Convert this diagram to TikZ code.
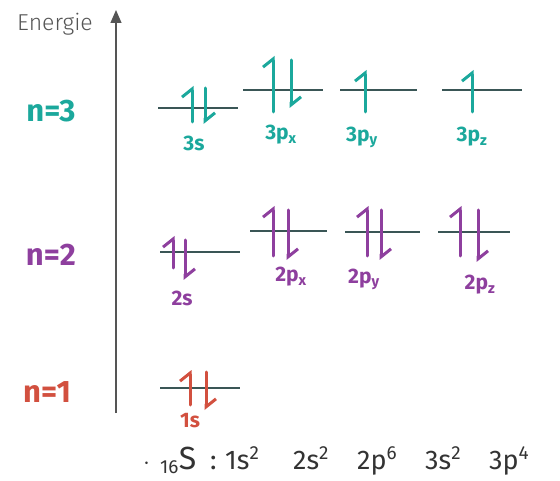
\documentclass[tikz,border=0pt]{standalone}
\usepackage{fontspec}
\setmainfont{Fira Sans}
\newfontfamily\energiefont{Fira Sans Light}
\usetikzlibrary{arrows.meta}
\definecolor{tealc}{HTML}{1BA89C}
\definecolor{purpc}{HTML}{8E3F9E}
\definecolor{redc}{HTML}{D2503F}
\definecolor{lvlc}{HTML}{3A5656}
\definecolor{axc}{HTML}{555555}
\begin{document}
\begin{tikzpicture}[x=1pt,y=-1pt,
  levelline/.style={line width=1.6pt, draw=lvlc},
  spin/.style={line width=3pt, line cap=round, -{Straight Barb[left,length=8pt,width=20pt,line width=3pt]}},
  lab/.style={font=\fontsize{21}{21}\selectfont\bfseries, inner sep=0pt},
  nlab/.style={font=\fontsize{31}{31}\selectfont\bfseries, inner sep=0pt}]
\useasboundingbox (0,0) rectangle (560,481);
\fill[white] (0,0) rectangle (560,481);
% axis
\coordinate (axb) at (116,413);
\coordinate (axt) at (116,10);
\draw[axc, line width=1.2pt, -{Triangle[length=13pt,width=11pt]}] (axb) -- (axt);
\node[text=axc, font=\fontsize{23}{23}\selectfont\energiefont, inner sep=0pt] (energie) at (55,24) {Energie};
% n labels
\node[nlab, text=tealc] (n3) at (51,111) {n=3};
\node[nlab, text=purpc] (n2) at (51,255) {n=2};
\node[nlab, text=redc] (n1) at (47,392) {n=1};
% n=3 levels
\draw[levelline] (158,108) coordinate (s3a) -- (238,108) coordinate (s3b);
\draw[spin, tealc] (192,122) -- (192,86);
\draw[spin, tealc] (205,88) -- (205,124);
\node[lab, text=tealc] (l3s) at (194,143) {3s};
\draw[levelline] (243,90) coordinate (px3a) -- (323,90) coordinate (px3b);
\draw[spin, tealc] (273,112) -- (273,56);
\draw[spin, tealc] (291,60) -- (291,108);
\node[lab, text=tealc] (l3px) at (281,135) {3p\textsubscript{x}};
\draw[levelline] (340,90) coordinate (py3a) -- (417,90) coordinate (py3b);
\draw[spin, tealc] (365,112) -- (365,70);
\node[lab, text=tealc] (l3py) at (362,137) {3p\textsubscript{y}};
\draw[levelline] (442,90) coordinate (pz3a) -- (522,90) coordinate (pz3b);
\draw[spin, tealc] (472,112) -- (472,70);
\node[lab, text=tealc] (l3pz) at (472,137) {3p\textsubscript{z}};
% n=2 levels
\draw[levelline] (160,252) coordinate (s2a) -- (240,252) coordinate (s2b);
\draw[spin, purpc] (173,268) -- (173,236);
\draw[spin, purpc] (185,240) -- (185,280);
\node[lab, text=purpc] (l2s) at (182,298) {2s};
\draw[levelline] (250,231) coordinate (px2a) -- (327,231) coordinate (px2b);
\draw[spin, purpc] (273,256) -- (273,206);
\draw[spin, purpc] (288,210) -- (288,260);
\node[lab, text=purpc] (l2px) at (291,277) {2p\textsubscript{x}};
\draw[levelline] (345,232) coordinate (py2a) -- (420,232) coordinate (py2b);
\draw[spin, purpc] (367,256) -- (367,206);
\draw[spin, purpc] (381,210) -- (381,260);
\node[lab, text=purpc] (l2py) at (364,279) {2p\textsubscript{y}};
\draw[levelline] (438,232) coordinate (pz2a) -- (510,232) coordinate (pz2b);
\draw[spin, purpc] (460,256) -- (460,206);
\draw[spin, purpc] (478,210) -- (478,262);
\node[lab, text=purpc] (l2pz) at (480,285) {2p\textsubscript{z}};
% n=1 level
\draw[levelline] (160,388) coordinate (s1a) -- (240,388) coordinate (s1b);
\draw[spin, redc] (190,405) -- (190,370);
\draw[spin, redc] (206,372) -- (206,410);
\node[lab, text=redc] (l1s) at (190,421) {1s};
% configuration
\node[anchor=base west, inner sep=0pt, text=black!80, font=\fontsize{27}{27}\selectfont] (config) at (143,469)
  {\makebox[17pt][l]{$\cdot$}\makebox[50pt][l]{\textsubscript{16}\fontsize{32}{32}\selectfont S}\makebox[15pt][l]{:}\makebox[68pt][l]{1s\textsuperscript{2}}\makebox[64pt][l]{2s\textsuperscript{2}}\makebox[68pt][l]{2p\textsuperscript{6}}\makebox[64pt][l]{3s\textsuperscript{2}}3p\textsuperscript{4}};
\end{tikzpicture}
\end{document}
